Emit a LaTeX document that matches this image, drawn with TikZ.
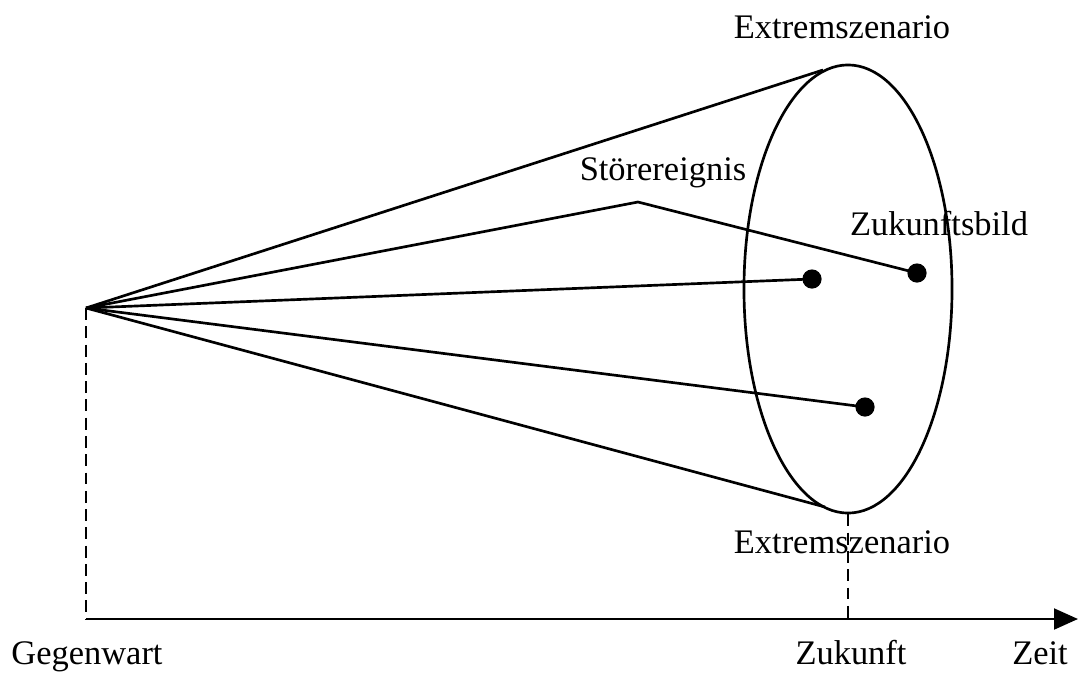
\documentclass[tikz,border=0pt]{standalone}
\usepackage{fontspec}
\setmainfont{Liberation Serif}
\usepackage{tikz}
\usetikzlibrary{arrows.meta,shapes.geometric}

\begin{document}
\begin{tikzpicture}[x=0.025cm,y=-0.025cm,>=Latex,font=\fontsize{24.5}{29}\selectfont]
  \tikzset{
    linie/.style={line width=1.9pt,line join=round},
    hilfslinie/.style={line width=1.9pt,dash pattern=on 8.5pt off 4.5pt},
    achse/.style={line width=1.9pt,-{Triangle[length=0.6cm,width=0.52cm]}},
    punkt/.style={circle,fill=black,inner sep=0pt,minimum size=0.48cm},
    beschriftung/.style={anchor=base,inner sep=0pt}
  }
  \useasboundingbox (0,0) rectangle (1079,672);
  \coordinate (gegenwart) at (86,308);
  \coordinate (ursprung) at (86,619);
  \coordinate (zukunft) at (848,619);
  \coordinate (zeit) at (1078,619);
  \coordinate (oben) at (823,70);
  \coordinate (unten) at (825,507);
  \coordinate (knick) at (638,202);
  \node[draw,ellipse,linie,minimum width=5.2cm,minimum height=11.2cm,inner sep=0pt] (bild) at (848,289) {};
  \node[punkt] (bild1) at (812,279) {};
  \node[punkt] (bild2) at (917,273) {};
  \node[punkt] (bild3) at (865,407) {};
  \draw[linie] (gegenwart) -- (oben);
  \draw[linie] (gegenwart) -- (unten);
  \draw[linie] (gegenwart) -- (knick) -- (bild2.center);
  \draw[linie] (gegenwart) -- (bild1.center);
  \draw[linie] (gegenwart) -- (bild3.center);
  \draw[hilfslinie] (gegenwart) -- (ursprung);
  \draw[hilfslinie] (bild.south) -- (zukunft);
  \draw[achse] (ursprung) -- (zeit);
  \node[beschriftung] (extremOben) at (842,38) {Extremszenario};
  \node[beschriftung] (extremUnten) at (842,553) {Extremszenario};
  \node[beschriftung] (stoerung) at (663,180) {Störereignis};
  \node[beschriftung] (zukunftsbild) at (939,235) {Zukunftsbild};
  \node[beschriftung] (lblGegenwart) at (87,664) {Gegenwart};
  \node[beschriftung] (lblZukunft) at (851,664) {Zukunft};
  \node[beschriftung] (lblZeit) at (1040,664) {Zeit};
\end{tikzpicture}
\end{document}
